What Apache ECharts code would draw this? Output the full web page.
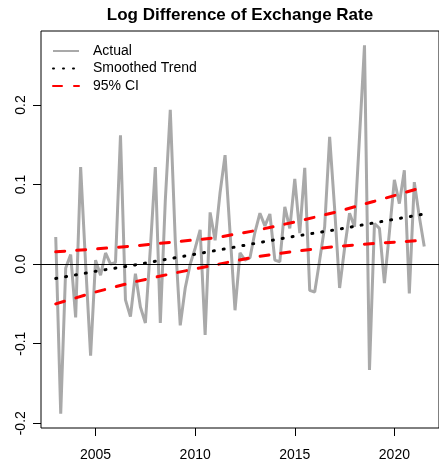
<!DOCTYPE html>
<html>
<head>
<meta charset="utf-8">
<script src="https://cdn.jsdelivr.net/npm/echarts@6/dist/echarts.min.js"></script>
<style>
  html, body { margin: 0; padding: 0; background: #fff; }
  #chart { width: 439px; height: 462px; }
</style>
</head>
<body>
<div id="chart"></div>
<script>
// quarterly series, first point 2003 Q1
var startYear = 2003;
var stepYears = 0.25;
var actual = [
  0.034, -0.188, -0.005, 0.012, -0.067, 0.122, 0.0, -0.115, 0.005, -0.014,
  0.014, 0.0, 0.002, 0.162, -0.045, -0.066, -0.012, -0.054, -0.074, 0.02,
  0.122, -0.074, 0.08, 0.194, 0.03, -0.077, -0.03, 0.0, 0.02, 0.043,
  -0.089, 0.065, 0.03, 0.09, 0.137, 0.04, -0.058, 0.014, 0.005, 0.008,
  0.04, 0.064, 0.048, 0.063, 0.005, 0.003, 0.072, 0.045, 0.107, 0.039,
  0.121, -0.033, -0.035, 0.005, 0.047, 0.16, 0.07, -0.03, 0.02, 0.064,
  0.047, 0.16, 0.275, -0.133, 0.051, 0.045, -0.024, 0.04, 0.106, 0.076,
  0.118, -0.037, 0.103, 0.06, 0.022
];

// smoothed trend and its band, read at a few years
var trendYears = [2003, 2005, 2007, 2009, 2011, 2013, 2015, 2017, 2019, 2021.5];
var trend = [-0.018, -0.009, -0.001, 0.008, 0.017, 0.026, 0.035, 0.043, 0.052, 0.063];
var ciUpper = [0.0155, 0.019, 0.023, 0.028, 0.033, 0.042, 0.053, 0.065, 0.079, 0.097];
var ciLower = [-0.050, -0.035, -0.022, -0.011, -0.001, 0.009, 0.016, 0.022, 0.026, 0.030];

var xTicks = [2005, 2010, 2015, 2020];
var yTicks = [-0.2, -0.1, 0.0, 0.1, 0.2];

var FONT = "'Liberation Sans', Arial, sans-serif";

function pairs(xs, ys) {
  return ys.map(function (v, i) { return [xs[i], v]; });
}
var actualData = actual.map(function (v, i) { return [startYear + i * stepYears, v]; });

var chart = echarts.init(document.getElementById('chart'));
var option = {
  animation: false,
  backgroundColor: '#fff',
  textStyle: { fontFamily: FONT },
  title: {
    text: 'Log Difference of Exchange Rate',
    left: 240,
    textAlign: 'center',
    top: 7,
    padding: 0,
    textStyle: { fontFamily: FONT, fontSize: 17, fontWeight: 'bold', color: '#000' }
  },
  legend: {
    orient: 'vertical',
    left: 47,
    top: 39,
    itemWidth: 26,
    itemHeight: 14,
    itemGap: 3.5,
    data: ['Actual', 'Smoothed Trend', '95% CI'],
    // hide the marker dot, keep only the line sample
    itemStyle: { color: 'transparent', borderColor: 'transparent', borderWidth: 0, opacity: 0 },
    textStyle: { fontFamily: FONT, fontSize: 14, color: '#000', padding: [0, 0, 0, 9] }
  },
  grid: {
    left: 41,
    right: -2,
    top: 31,
    bottom: 34,
    show: true,
    borderColor: '#000',
    borderWidth: 1,
    backgroundColor: 'transparent'
  },
  xAxis: {
    type: 'value',
    min: 2002.26,
    max: 2022.24,
    splitLine: { show: false },
    axisLine: { show: false, onZero: false },
    axisTick: { show: true, length: 8, customValues: xTicks, lineStyle: { color: '#000' } },
    axisLabel: {
      customValues: xTicks,
      margin: 20,
      fontSize: 14,
      color: '#000',
      fontFamily: FONT,
      formatter: function (v) { return String(v); }
    }
  },
  yAxis: {
    type: 'value',
    min: -0.206,
    max: 0.293,
    splitLine: { show: false },
    axisLine: { show: false, onZero: false },
    axisTick: { show: true, length: 8, customValues: yTicks, lineStyle: { color: '#000' } },
    axisLabel: {
      customValues: yTicks,
      rotate: 90,
      margin: 13,
      fontSize: 14,
      color: '#000',
      fontFamily: FONT,
      formatter: function (v) { return v.toFixed(1); }
    }
  },
  series: [
    {
      name: 'Actual',
      type: 'line',
      symbol: 'none',
      data: actualData,
      lineStyle: { color: '#a9a9a9', width: 3 },
      itemStyle: { color: '#a9a9a9' },
      z: 2
    },
    {
      name: 'Smoothed Trend',
      type: 'line',
      symbol: 'none',
      data: pairs(trendYears, trend),
      lineStyle: { color: '#000', width: 3, type: [1, 9], cap: 'round' },
      itemStyle: { color: '#000' },
      z: 3
    },
    {
      name: '95% CI',
      type: 'line',
      symbol: 'none',
      data: pairs(trendYears, ciUpper),
      lineStyle: { color: '#ff0000', width: 3, type: [9, 12], cap: 'round' },
      itemStyle: { color: '#ff0000' },
      z: 3
    },
    {
      name: '95% CI',
      type: 'line',
      symbol: 'none',
      data: pairs(trendYears, ciLower),
      lineStyle: { color: '#ff0000', width: 3, type: [9, 12], cap: 'round' },
      itemStyle: { color: '#ff0000' },
      z: 3,
      markLine: {
        silent: true,
        symbol: 'none',
        label: { show: false },
        lineStyle: { color: '#000', width: 1, type: 'solid' },
        data: [{ yAxis: 0 }]
      }
    }
  ]
};
chart.setOption(option);
</script>
</body>
</html>
